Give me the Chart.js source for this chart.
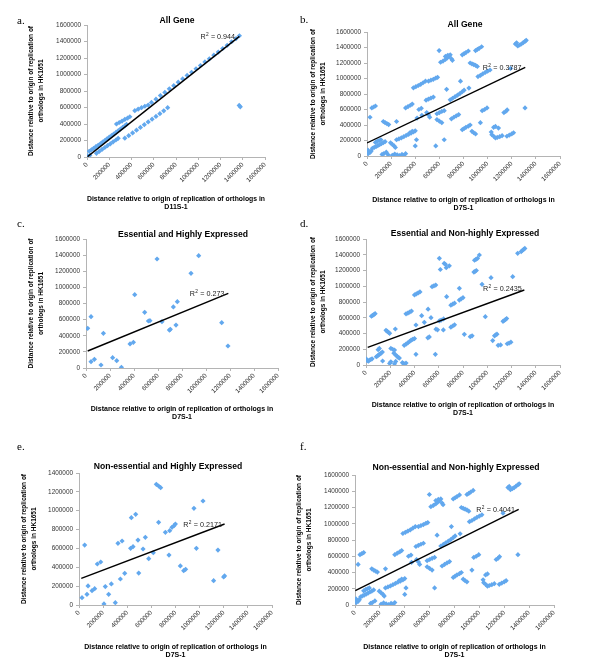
<!DOCTYPE html>
<html>
<head>
<meta charset="utf-8">
<script src="https://cdn.jsdelivr.net/npm/chart.js@4.4.0/dist/chart.umd.min.js"></script>
<style>
  body { margin: 0; background: #fff; width: 600px; height: 668px; position: relative; overflow: hidden; }
  canvas { position: absolute; }
</style>
</head>
<body>
<canvas id="panel-a"></canvas>
<canvas id="panel-b"></canvas>
<canvas id="panel-c"></canvas>
<canvas id="panel-d"></canvas>
<canvas id="panel-e"></canvas>
<canvas id="panel-f"></canvas>
<script>
// ---- data ----
const panelLetters = ['a.', 'b.', 'c.', 'd.', 'e.', 'f.'];
const panelTitles = [
  'All Gene',
  'All Gene',
  'Essential and Highly Expressed',
  'Essential and Non-highly Expressed',
  'Non-essential and Highly Expressed',
  'Non-essential and Non-highly Expressed'
];
const xStrains = ['D11S-1', 'D7S-1', 'D7S-1', 'D7S-1', 'D7S-1', 'D7S-1'];
const yMaxes = [1600000, 1600000, 1600000, 1600000, 1400000, 1600000];
const xMax = 1600000;
const tickStep = 200000;
const r2Values = ['0.944', '0.3787', '0.273', '0.2435', '0.2171', '0.4041'];

// trendline end points [x, y]
const trendA = [[5000, 4000], [1370000, 1462000]];
const trendB = [[0, 168000], [1312000, 1144000]];
const trendC = [[14000, 211000], [1186000, 926000]];
const trendD = [[14000, 224000], [1306000, 952000]];
const trendE = [[19000, 283000], [1207000, 859000]];
const trendF = [[2400, 176000], [1316000, 1178000]];

// gene positions [D7S-1 or D11S-1, HK1651]
const pointsA = [
  [5000, 15000], [15000, 5000], [25000, 20000],
  [20000, 70000], [40000, 88000], [60000, 105000], [80000, 125000], [100000, 142000], [120000, 160000],
  [140000, 182000], [160000, 200000], [180000, 220000], [200000, 240000], [220000, 258000], [240000, 278000],
  [260000, 298000], [280000, 318000], [300000, 338000], [320000, 358000], [340000, 378000], [355000, 395000],
  [265000, 400000], [290000, 418000], [315000, 436000], [340000, 455000], [365000, 472000], [385000, 488000],
  [430000, 562000], [460000, 580000], [490000, 598000], [520000, 615000], [550000, 630000],
  [580000, 662000], [620000, 701000], [660000, 744000], [700000, 783000], [740000, 826000], [780000, 864000],
  [820000, 907000], [860000, 946000], [900000, 989000], [940000, 1027000], [980000, 1070000], [1020000, 1109000],
  [1060000, 1152000], [1100000, 1190000], [1140000, 1234000], [1180000, 1272000], [1220000, 1315000],
  [1260000, 1354000], [1300000, 1397000], [1340000, 1436000], [1370000, 1470000],
  [85000, 45000], [110000, 68000], [135000, 92000], [160000, 115000], [185000, 138000], [210000, 160000],
  [235000, 184000], [260000, 206000], [280000, 226000],
  [340000, 228000], [375000, 258000], [410000, 292000], [445000, 325000], [480000, 358000], [515000, 392000],
  [550000, 425000], [585000, 458000], [620000, 492000], [655000, 525000], [690000, 560000], [725000, 598000],
  [1368000, 625000], [1378000, 608000]
];

const pointsB = [
  [2000, 60000], [8000, 75000], [15000, 55000], [25000, 45000], [35000, 65000], [10000, 30000],
  [45000, 100000], [60000, 112000], [75000, 122000], [90000, 135000], [105000, 147000], [120000, 160000],
  [135000, 172000], [150000, 185000],
  [70000, 175000], [85000, 190000], [100000, 200000], [115000, 210000],
  [125000, 20000], [140000, 30000], [160000, 50000], [175000, 15000],
  [195000, 170000], [210000, 150000], [225000, 130000], [235000, 110000],
  [210000, 10000], [230000, 25000], [250000, 15000], [270000, 5000], [290000, 20000], [305000, 10000], [320000, 30000],
  [135000, 445000], [150000, 430000], [165000, 418000], [180000, 405000], [245000, 445000],
  [40000, 620000], [55000, 632000], [70000, 645000], [25000, 500000],
  [245000, 210000], [265000, 222000], [285000, 235000], [305000, 250000], [325000, 265000], [345000, 280000],
  [365000, 295000], [385000, 310000], [400000, 325000], [355000, 300000], [375000, 318000],
  [400000, 130000], [410000, 210000], [570000, 130000], [640000, 210000],
  [320000, 620000], [340000, 638000], [360000, 655000], [375000, 670000],
  [430000, 600000], [450000, 615000], [415000, 490000], [455000, 525000],
  [495000, 560000], [510000, 530000], [520000, 500000],
  [490000, 720000], [510000, 735000], [530000, 748000], [550000, 760000],
  [580000, 545000], [600000, 560000], [620000, 575000], [640000, 585000],
  [580000, 470000], [600000, 450000], [620000, 430000],
  [700000, 480000], [720000, 500000], [740000, 518000], [760000, 535000],
  [690000, 725000], [710000, 745000], [730000, 765000], [750000, 785000], [770000, 805000], [790000, 830000], [805000, 850000],
  [660000, 860000], [775000, 965000], [845000, 877000],
  [385000, 880000], [405000, 895000], [425000, 910000], [445000, 925000], [465000, 945000], [485000, 965000],
  [510000, 965000], [530000, 978000], [550000, 990000], [570000, 1005000], [585000, 1015000],
  [598000, 1360000],
  [610000, 1210000], [630000, 1225000], [650000, 1245000], [665000, 1265000], [680000, 1285000], [690000, 1305000],
  [700000, 1255000], [708000, 1235000], [650000, 1285000], [670000, 1300000],
  [790000, 1305000], [805000, 1320000], [820000, 1335000], [840000, 1355000],
  [900000, 1360000], [915000, 1375000], [930000, 1390000], [950000, 1410000],
  [855000, 1200000], [870000, 1190000], [885000, 1180000], [900000, 1170000], [915000, 1155000],
  [920000, 1025000], [940000, 1040000], [960000, 1060000], [980000, 1078000], [1000000, 1095000], [1020000, 1110000],
  [1190000, 1130000],
  [1230000, 1445000], [1240000, 1460000], [1250000, 1420000], [1265000, 1432000], [1280000, 1445000],
  [1295000, 1462000], [1310000, 1480000], [1320000, 1492000],
  [955000, 585000], [975000, 600000], [995000, 620000],
  [1135000, 560000], [1150000, 575000], [1162000, 595000], [1310000, 620000],
  [790000, 340000], [805000, 355000], [820000, 370000], [840000, 385000], [855000, 400000],
  [870000, 318000], [885000, 300000], [900000, 285000], [940000, 430000],
  [1050000, 370000], [1065000, 382000], [1090000, 360000], [1030000, 310000],
  [1035000, 275000], [1050000, 255000],
  [1065000, 232000], [1080000, 240000], [1100000, 250000], [1120000, 262000],
  [1160000, 255000], [1180000, 270000], [1200000, 285000], [1215000, 300000]
];

const pointsC = [
  [14000, 492000], [42000, 637000], [42000, 79000], [70000, 108000], [125000, 37000], [145000, 430000],
  [222000, 128000], [256000, 91000], [295000, 8000], [367000, 298000], [395000, 318000], [406000, 910000],
  [489000, 691000], [520000, 583000], [533000, 587000], [592000, 1352000], [633000, 575000], [695000, 471000],
  [703000, 480000], [728000, 757000], [750000, 533000], [761000, 823000], [875000, 1174000], [939000, 1393000],
  [1131000, 562000], [1183000, 273000]
];

const pointsD = [
  [3000, 75000], [10000, 55000], [20000, 50000], [30000, 62000], [40000, 70000], [50000, 78000],
  [45000, 620000], [55000, 630000], [65000, 640000], [75000, 652000],
  [85000, 105000], [95000, 115000], [105000, 128000], [115000, 140000], [125000, 152000], [135000, 165000],
  [100000, 195000], [110000, 210000], [137000, 51000],
  [165000, 440000], [175000, 428000], [185000, 415000], [195000, 402000], [242000, 457000],
  [205000, 210000], [220000, 200000], [235000, 190000],
  [230000, 150000], [243000, 130000], [255000, 112000], [265000, 97000], [275000, 88000],
  [195000, 20000], [205000, 40000], [235000, 15000], [245000, 45000],
  [300000, 30000], [310000, 18000], [320000, 12000], [330000, 25000],
  [315000, 250000], [330000, 265000], [345000, 282000], [360000, 300000], [372000, 315000],
  [385000, 325000], [400000, 335000],
  [330000, 650000], [345000, 660000], [360000, 672000], [375000, 685000],
  [400000, 890000], [415000, 902000], [430000, 915000], [445000, 928000],
  [412000, 508000], [412000, 135000], [459000, 626000], [481000, 542000], [512000, 709000],
  [510000, 345000], [522000, 356000], [536000, 601000],
  [545000, 995000], [560000, 1005000], [575000, 1015000],
  [577000, 455000], [590000, 447000], [572000, 135000],
  [605000, 1354000], [613000, 1213000], [645000, 1290000], [655000, 1278000], [662000, 1236000], [687000, 1260000],
  [605000, 560000], [620000, 570000], [638000, 445000], [640000, 585000], [665000, 868000],
  [700000, 760000], [715000, 772000], [730000, 785000],
  [700000, 480000], [715000, 495000], [730000, 510000],
  [770000, 974000], [770000, 825000], [785000, 840000], [800000, 855000],
  [811000, 389000], [860000, 360000], [875000, 370000],
  [895000, 1330000], [907000, 1342000], [920000, 1355000],
  [890000, 1180000], [900000, 1190000], [910000, 1200000],
  [935000, 1397000], [957000, 1024000], [984000, 614000], [1031000, 1109000],
  [1045000, 310000], [1060000, 370000], [1070000, 382000], [1080000, 392000],
  [1090000, 250000], [1110000, 255000],
  [1130000, 555000], [1140000, 565000], [1150000, 577000], [1160000, 590000],
  [1165000, 270000], [1180000, 278000], [1195000, 290000],
  [1210000, 1122000], [1251000, 1418000],
  [1280000, 1440000], [1290000, 1455000], [1300000, 1468000], [1310000, 1480000]
];

const pointsE = [
  [25000, 78000], [47000, 636000], [66000, 113000], [75000, 202000], [108000, 152000], [130000, 173000],
  [152000, 435000], [180000, 456000], [207000, 11000], [218000, 195000], [246000, 113000], [268000, 223000],
  [301000, 25000], [323000, 654000], [343000, 276000], [357000, 679000], [379000, 336000], [428000, 601000],
  [448000, 619000], [434000, 926000], [470000, 962000], [495000, 339000], [489000, 689000], [531000, 594000],
  [550000, 718000], [578000, 491000], [616000, 555000], [641000, 1280000], [660000, 1262000], [677000, 1244000],
  [660000, 877000], [716000, 771000], [746000, 530000], [752000, 788000], [771000, 824000], [788000, 841000],
  [799000, 859000], [840000, 414000], [868000, 364000], [884000, 378000], [953000, 1025000], [973000, 601000],
  [1028000, 1103000], [1116000, 258000], [1152000, 583000], [1199000, 297000], [1207000, 308000]
];

const pointsF = [
  [2000, 60000], [8000, 75000], [15000, 55000], [25000, 45000], [35000, 65000], [10000, 30000],
  [45000, 100000], [60000, 112000], [75000, 122000], [90000, 135000], [105000, 147000], [120000, 160000],
  [135000, 172000], [150000, 185000],
  [70000, 175000], [85000, 190000], [100000, 200000], [115000, 210000],
  [125000, 20000], [140000, 30000], [160000, 50000],
  [195000, 170000], [210000, 150000], [225000, 130000], [235000, 110000],
  [210000, 10000], [230000, 25000], [250000, 15000], [270000, 5000], [290000, 20000], [305000, 10000], [320000, 30000],
  [135000, 445000], [150000, 430000], [165000, 418000], [180000, 405000], [245000, 445000],
  [40000, 620000], [55000, 632000], [70000, 645000], [25000, 500000],
  [245000, 210000], [265000, 222000], [285000, 235000], [305000, 250000], [325000, 265000], [345000, 280000],
  [365000, 295000], [385000, 310000], [400000, 325000], [355000, 300000], [375000, 318000],
  [400000, 130000], [410000, 210000], [640000, 210000],
  [320000, 620000], [340000, 638000], [360000, 655000], [375000, 670000],
  [430000, 600000], [450000, 615000], [455000, 525000],
  [495000, 560000], [510000, 530000], [520000, 500000],
  [490000, 720000], [510000, 735000], [530000, 748000], [550000, 760000],
  [580000, 545000], [600000, 560000], [620000, 575000], [640000, 585000],
  [580000, 470000], [600000, 450000], [620000, 430000],
  [700000, 480000], [720000, 500000], [740000, 518000], [760000, 535000],
  [690000, 725000], [710000, 745000], [730000, 765000], [750000, 785000], [770000, 805000], [790000, 830000], [805000, 850000],
  [660000, 860000], [775000, 965000], [845000, 877000],
  [385000, 880000], [405000, 895000], [425000, 910000], [445000, 925000], [465000, 945000], [485000, 965000],
  [510000, 965000], [530000, 978000], [550000, 990000], [570000, 1005000], [585000, 1015000],
  [598000, 1360000],
  [610000, 1210000], [630000, 1225000], [650000, 1245000], [665000, 1265000], [680000, 1285000], [690000, 1305000],
  [700000, 1255000], [708000, 1235000], [650000, 1285000], [670000, 1300000],
  [790000, 1305000], [805000, 1320000], [820000, 1335000], [840000, 1355000],
  [900000, 1360000], [915000, 1375000], [930000, 1390000], [950000, 1410000],
  [855000, 1200000], [870000, 1190000], [885000, 1180000], [900000, 1170000], [915000, 1155000],
  [920000, 1025000], [940000, 1040000], [960000, 1060000], [980000, 1078000], [1000000, 1095000], [1020000, 1110000],
  [1190000, 1130000],
  [1230000, 1445000], [1240000, 1460000], [1250000, 1420000], [1265000, 1432000], [1280000, 1445000],
  [1295000, 1462000], [1310000, 1480000], [1320000, 1492000],
  [955000, 585000], [975000, 600000], [995000, 620000],
  [1135000, 560000], [1150000, 575000], [1162000, 595000], [1310000, 620000],
  [790000, 340000], [805000, 355000], [820000, 370000], [840000, 385000], [855000, 400000],
  [870000, 318000], [885000, 300000], [900000, 285000], [940000, 430000],
  [1050000, 370000], [1065000, 382000], [1030000, 310000],
  [1035000, 275000], [1050000, 255000],
  [1065000, 232000], [1080000, 240000], [1100000, 250000], [1120000, 262000],
  [1160000, 255000], [1180000, 270000], [1200000, 285000], [1215000, 300000]
];

const allPoints = [pointsA, pointsB, pointsC, pointsD, pointsE, pointsF];
const allTrends = [trendA, trendB, trendC, trendD, trendE, trendF];

// ---- page layout (pixels) ----
// canvas box, plot box, and where the texts sit
const layouts = [
  { id: 'panel-a', box: [0, 0, 300, 215], plot: [87, 25, 265, 157], titleXY: [177, 20.5], letterXY: [17, 24], xTitleY: 207, yTitleX: 31, r2At: [1020000, 1432000] },
  { id: 'panel-b', box: [300, 0, 300, 215], plot: [367, 32, 560, 156], titleXY: [465, 25], letterXY: [300, 23], xTitleY: 208, yTitleX: 313, r2At: [960000, 1114000] },
  { id: 'panel-c', box: [0, 215, 300, 215], plot: [86, 239, 278, 368], titleXY: [183, 235], letterXY: [17, 227], xTitleY: 417.5, yTitleX: 31, r2At: [865000, 890000] },
  { id: 'panel-d', box: [300, 215, 300, 215], plot: [366, 239, 560, 365], titleXY: [465, 234], letterXY: [300, 227], xTitleY: 413.5, yTitleX: 313, r2At: [965000, 935000] },
  { id: 'panel-e', box: [0, 430, 300, 238], plot: [79, 473, 272, 605], titleXY: [168, 467], letterXY: [17, 450], xTitleY: 655, yTitleX: 24, r2At: [865000, 831000] },
  { id: 'panel-f', box: [285, 430, 315, 238], plot: [355, 475, 554, 605], titleXY: [456, 468], letterXY: [300, 450], xTitleY: 655, yTitleX: 299, r2At: [975000, 1149000] }
];

const SANS = '"Liberation Sans", Arial, sans-serif';
const X_TITLE_LH = 7 * 1.2;
const Y_TITLE_LH = 6.5 * 1.5;

// draws title, panel letter and the R² note
const panelText = {
  id: 'panelText',
  afterDatasetsDraw(chart, args, opts) {
    const { ctx, scales } = chart;
    const ox = opts.originX, oy = opts.originY;
    ctx.save();
    ctx.fillStyle = '#000';
    ctx.font = 'bold 8.6px ' + SANS;
    ctx.textAlign = 'center';
    ctx.textBaseline = 'middle';
    ctx.fillText(opts.title, opts.titleX - ox, opts.titleY - oy);

    ctx.font = '11px "Liberation Serif", "Times New Roman", serif';
    ctx.textAlign = 'left';
    ctx.textBaseline = 'alphabetic';
    ctx.fillText(opts.letter, opts.letterX - ox, opts.letterY - oy);

    const x = scales.x.getPixelForValue(opts.r2X);
    const y = scales.y.getPixelForValue(opts.r2Y);
    ctx.fillStyle = '#222';
    ctx.font = '7.2px ' + SANS;
    ctx.fillText('R', x, y);
    const wR = ctx.measureText('R').width;
    ctx.font = '4.8px ' + SANS;
    ctx.fillText('2', x + wR + 0.3, y - 3);
    const w2 = ctx.measureText('2').width;
    ctx.font = '7.2px ' + SANS;
    ctx.fillText(' = ' + opts.r2, x + wR + w2 + 0.6, y);
    ctx.restore();
  }
};

const toXY = arr => arr.map(([x, y]) => ({ x, y }));

layouts.forEach((lay, i) => {
  const canvas = document.getElementById(lay.id);
  const [left, top, width, height] = lay.box;
  const [pl, pt, pr, pb] = lay.plot;
  canvas.width = width;
  canvas.height = height;
  canvas.style.left = left + 'px';
  canvas.style.top = top + 'px';
  canvas.style.width = width + 'px';
  canvas.style.height = height + 'px';

  const tickFont = { family: SANS, size: 6.4 };
  const axisColor = '#b4b4b4';

  new Chart(canvas, {
    type: 'scatter',
    data: {
      datasets: [
        {
          data: toXY(allTrends[i]),
          showLine: true,
          borderColor: '#000',
          borderWidth: 1.4,
          pointRadius: 0,
          order: 0
        },
        {
          data: toXY(allPoints[i]),
          pointStyle: 'rectRot',
          pointRadius: 2.6,
          backgroundColor: '#62a8ee',
          borderWidth: 0,
          order: 1
        }
      ]
    },
    options: {
      responsive: false,
      animation: false,
      layout: { padding: { left: 0, top: pt - top, right: left + width - pr, bottom: 0 } },
      plugins: {
        legend: { display: false },
        tooltip: { enabled: false },
        panelText: {
          originX: left, originY: top,
          title: panelTitles[i], titleX: lay.titleXY[0], titleY: lay.titleXY[1],
          letter: panelLetters[i], letterX: lay.letterXY[0], letterY: lay.letterXY[1],
          r2: r2Values[i], r2X: lay.r2At[0], r2Y: lay.r2At[1]
        }
      },
      scales: {
        x: {
          type: 'linear',
          min: 0,
          max: xMax,
          afterFit: s => { s.height = top + height - pb; },
          border: { color: axisColor },
          grid: { drawOnChartArea: false, tickLength: 3, color: axisColor },
          ticks: {
            stepSize: tickStep, autoSkip: false, minRotation: 45, maxRotation: 45,
            padding: 1, color: '#333', font: tickFont, callback: v => String(v)
          },
          title: {
            display: true,
            text: ['Distance relative to origin of replication of orthologs in', xStrains[i]],
            color: '#000',
            font: { family: SANS, size: 7, weight: 'bold', lineHeight: 1.2 },
            padding: { top: 0, bottom: top + height - X_TITLE_LH / 2 - lay.xTitleY }
          }
        },
        y: {
          type: 'linear',
          min: 0,
          max: yMaxes[i],
          afterFit: s => { s.width = pl - left; },
          border: { color: axisColor },
          grid: { drawOnChartArea: false, tickLength: 3, color: axisColor },
          ticks: { stepSize: tickStep, padding: 3, color: '#333', font: tickFont, callback: v => String(v) },
          title: {
            display: true,
            text: ['Distance relative to origin of replication of', 'orthologs in HK1651'],
            color: '#000',
            font: { family: SANS, size: 6.5, weight: 'bold', lineHeight: 1.5 },
            padding: { top: lay.yTitleX - left - Y_TITLE_LH / 2, bottom: 0 }
          }
        }
      }
    },
    plugins: [panelText]
  });
});
</script>
</body>
</html>
